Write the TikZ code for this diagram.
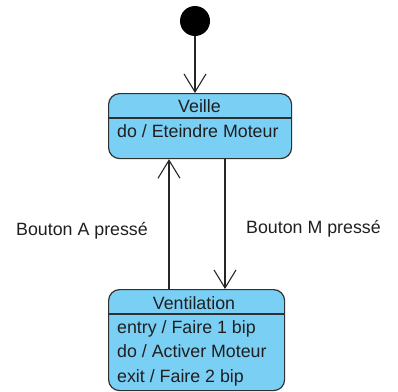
\documentclass[tikz,border=0pt]{standalone}
\usepackage{fontspec}
\setmainfont{Liberation Sans}
\usetikzlibrary{arrows.meta}
\definecolor{statefill}{HTML}{7ACFF5}
\definecolor{stateline}{HTML}{303030}
\begin{document}
\begin{tikzpicture}[x=1pt,y=-1pt,
  statebox/.style={draw=stateline,fill=statefill,line width=1.2pt,rounded corners=11pt,inner sep=0pt,anchor=north west},
  txt/.style={inner sep=0pt,font=\fontsize{17.8}{20}\selectfont,text=black!88},
  conn/.style={draw=black!85,line width=1.1pt,-{Straight Barb[length=18pt,width=22pt,line width=1.1pt]}}]
\useasboundingbox (0,0) rectangle (398,391);
% initial state
\node[circle,fill=black,minimum size=30pt,inner sep=0pt] (init) at (195,21) {};
% Veille
\node[statebox,minimum width=183pt,minimum height=65pt] (veille) at (108,93) {};
\draw[stateline,line width=1.2pt] (veille.west |- 0,118) -- (veille.east |- 0,118);
\node[txt,anchor=base] (vt) at (199.5,112.5) {Veille};
\node[txt,anchor=base west] (vd) at (117,137) {do / Eteindre Moteur};
% Ventilation
\node[statebox,minimum width=176pt,minimum height=101pt] (vent) at (108,289) {};
\draw[stateline,line width=1.2pt] (vent.west |- 0,314) -- (vent.east |- 0,314);
\node[txt,anchor=base] (ventt) at (194,309.5) {Ventilation};
\node[txt,anchor=base west] (ve1) at (117,333) {entry / Faire 1 bip};
\node[txt,anchor=base west] (ve2) at (117,357) {do / Activer Moteur};
\node[txt,anchor=base west] (ve3) at (117,382) {exit / Faire 2 bip};
% transitions
\draw[conn] (init.south) -- (veille.north -| init.south);
\coordinate (la) at (169,0);
\coordinate (ra) at (225,0);
\draw[conn] (vent.north -| la) -- (veille.south -| la);
\draw[conn] (veille.south -| ra) -- (vent.north -| ra);
\node[txt,anchor=base] (lblA) at (82,235) {Bouton A pressé};
\node[txt,anchor=base] (lblM) at (313.5,233) {Bouton M pressé};
\end{tikzpicture}
\end{document}
